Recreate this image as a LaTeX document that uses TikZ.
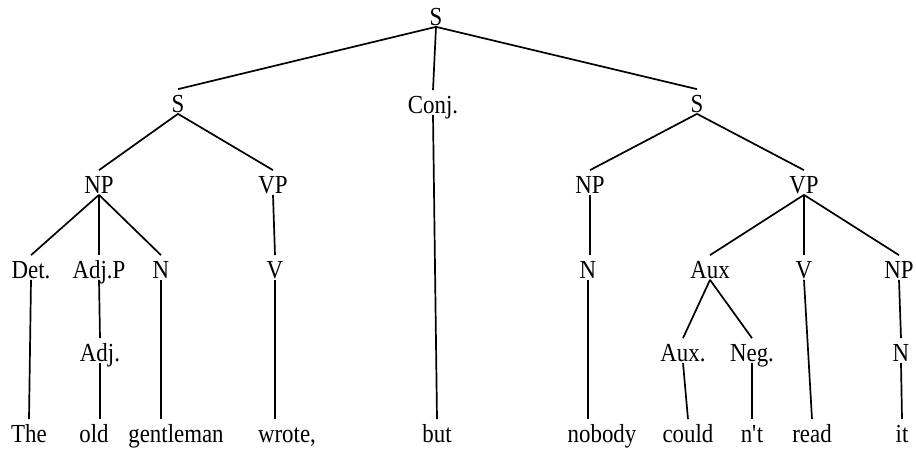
\documentclass[tikz,border=0pt]{standalone}
\usepackage{fontspec}
\setmainfont{Liberation Serif}[FakeStretch=0.88]
\begin{document}
\begin{tikzpicture}[x=1pt,y=-1pt,line width=1.7pt,
  lab/.style={anchor=base,inner sep=0pt,text height=22pt,text depth=1pt,font=\fontsize{26}{30}\selectfont}]
\useasboundingbox (0,0) rectangle (916,450);
% categories
\node[lab] (S) at (436,25) {S};
\node[lab] (S1) at (178,112) {S};
\node[lab] (Conj) at (433,113) {Conj.};
\node[lab] (S2) at (697,112) {S};
\node[lab] (NP1) at (99,193) {NP};
\node[lab] (VP1) at (273,193) {VP};
\node[lab] (NP2) at (590,193) {NP};
\node[lab] (VP2) at (804,193) {VP};
\node[lab] (Det) at (31,278) {Det.};
\node[lab] (AdjP) at (99,278) {Adj.P};
\node[lab] (N1) at (161,278) {N};
\node[lab] (V1) at (275,278) {V};
\node[lab] (N2) at (588,278) {N};
\node[lab] (Aux) at (710,278) {Aux};
\node[lab] (V2) at (804,278) {V};
\node[lab] (NP3) at (899,278) {NP};
\node[lab] (Adj) at (100,361) {Adj.};
\node[lab] (AuxB) at (683,361) {Aux.};
\node[lab] (Neg) at (752,361) {Neg.};
\node[lab] (N3) at (901,361) {N};
% words
\node[lab] (wThe) at (29,442) {The};
\node[lab] (wold) at (94,442) {old};
\node[lab] (wgent) at (176,442) {gentleman};
\node[lab] (wwrote) at (287,442) {wrote,};
\node[lab] (wbut) at (437,442) {but};
\node[lab] (wnobody) at (602,442) {nobody};
\node[lab] (wcould) at (688,442) {could};
\node[lab] (wnt) at (752,442) {n\textquotesingle t};
\node[lab] (wread) at (812,442) {read};
\node[lab] (wit) at (902,442) {it};
% branches
\path [] (S.south) edge (S1.north);
\path [] (S.south) edge (Conj.north);
\path [] (S.south) edge (S2.north);
\path [] (S1.south) edge (NP1.north);
\path [] (S1.south) edge (VP1.north);
\path [] (S2.south) edge (NP2.north);
\path [] (S2.south) edge (VP2.north);
\path [] (NP1.south) edge (Det.north);
\path [] (NP1.south) edge (AdjP.north);
\path [] (NP1.south) edge (N1.north);
\path [] (VP1.south) edge (V1.north);
\path [] (NP2.south) edge (NP2.south |- N2.north);
\path [] (VP2.south) edge (Aux.north);
\path [] (VP2.south) edge (V2.north);
\path [] (VP2.south) edge (NP3.north);
\path [] (AdjP.south) edge (Adj.north);
\path [] (Aux.south) edge (AuxB.north);
\path [] (Aux.south) edge (Neg.north);
\path [] (NP3.south) edge (N3.north);
\path [] (Det.south) edge (wThe.north);
\path [] (Adj.south) edge (Adj.south |- wold.north);
\path [] (N1.south) edge (N1.south |- wgent.north);
\path [] (V1.south) edge (wwrote.north -| V1.south);
\path [] (Conj.south) edge (wbut.north);
\path [] (N2.south) edge (N2.south |- wnobody.north);
\path [] (AuxB.south) edge (wcould.north);
\path [] (Neg.south) edge (wnt.north);
\path [] (V2.south) edge (wread.north);
\path [] (N3.south) edge (wit.north);
\end{tikzpicture}
\end{document}
